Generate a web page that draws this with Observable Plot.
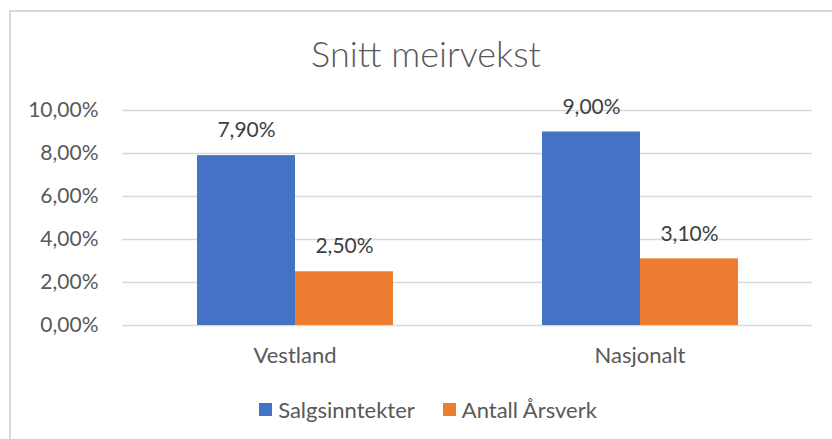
<!DOCTYPE html>
<html>
<head>
<meta charset="utf-8">
<script src="https://cdn.jsdelivr.net/npm/d3@7"></script>
<script src="https://cdn.jsdelivr.net/npm/@observablehq/plot@0.6"></script>
<style>
  html, body { margin: 0; padding: 0; background: #fff; }
  #wrap { position: relative; width: 832px; height: 439px; overflow: hidden; font-family: Lato, "Open Sans", sans-serif; color: #595959; }
  #frame { position: absolute; left: 9px; top: 10px; width: 900px; height: 500px; border-left: 2px solid #d9d9d9; border-top: 2px solid #d9d9d9; }
  #title { position: absolute; left: 0; width: 852px; top: 31px; text-align: center; font-size: 36px; font-weight: 300; white-space: nowrap; }
  #chart { position: absolute; left: 0; top: 0; }
  #legend { position: absolute; top: 396px; left: 12px; width: 832px; display: flex; justify-content: center; font-size: 22px; white-space: nowrap; }
  .item { display: flex; align-items: center; margin: 0 14px; }
  .sw { width: 13px; height: 13px; margin-right: 6px; }
</style>
</head>
<body>
<div id="wrap">
  <div id="frame"></div>
  <div id="chart"></div>
  <div id="title">Snitt meirvekst</div>
  <div id="legend"></div>
</div>
<script>
const categories = ["Vestland", "Nasjonalt"];
const series = ["Salgsinntekter", "Antall Årsverk"];
const salgsinntekter = [7.9, 9.0];
const antallArsverk = [2.5, 3.1];
const yTicks = [0, 2, 4, 6, 8, 10];
const colors = ["#4472C4", "#ED7D31"];

const data = [];
categories.forEach((c, i) => {
  data.push({category: c, series: series[0], value: salgsinntekter[i]});
  data.push({category: c, series: series[1], value: antallArsverk[i]});
});

const fmt = v => v.toFixed(2).replace(".", ",") + "%";

const chart = Plot.plot({
  width: 832,
  height: 439,
  marginLeft: 122,
  marginRight: 20,
  marginTop: 110,
  marginBottom: 114,
  style: {fontFamily: "Lato, 'Open Sans', sans-serif", color: "#595959", background: "transparent"},
  fx: {domain: categories, padding: 0, label: null},
  x: {domain: series, paddingInner: 0, paddingOuter: 0.75, axis: null},
  y: {domain: [0, 10], ticks: yTicks, label: null, axis: null},
  color: {domain: series, range: colors},
  marks: [
    Plot.ruleY(yTicks, {stroke: "#d9d9d9", strokeWidth: 1.5}),
    Plot.barY(data, {fx: "category", x: "series", y: "value", fill: "series", inset: 0}),
    Plot.text(data, {fx: "category", x: "series", y: "value", text: d => fmt(d.value), dy: -25, lineAnchor: "middle", fontSize: 21, fill: "#404040"}),
    Plot.axisY(yTicks, {anchor: "left", tickSize: 0, tickPadding: 24, tickFormat: fmt, fontSize: 21, fill: "#595959"}),
    Plot.axisFx({anchor: "bottom", tickSize: 0, tickPadding: 22, fontSize: 22, fill: "#595959", label: null})
  ]
});
document.getElementById("chart").appendChild(chart);

const legend = document.getElementById("legend");
series.forEach((s, i) => {
  const it = document.createElement("div");
  it.className = "item";
  const sw = document.createElement("div");
  sw.className = "sw";
  sw.style.background = colors[i];
  const t = document.createElement("span");
  t.textContent = s;
  it.appendChild(sw); it.appendChild(t);
  legend.appendChild(it);
});
</script>
</body>
</html>
